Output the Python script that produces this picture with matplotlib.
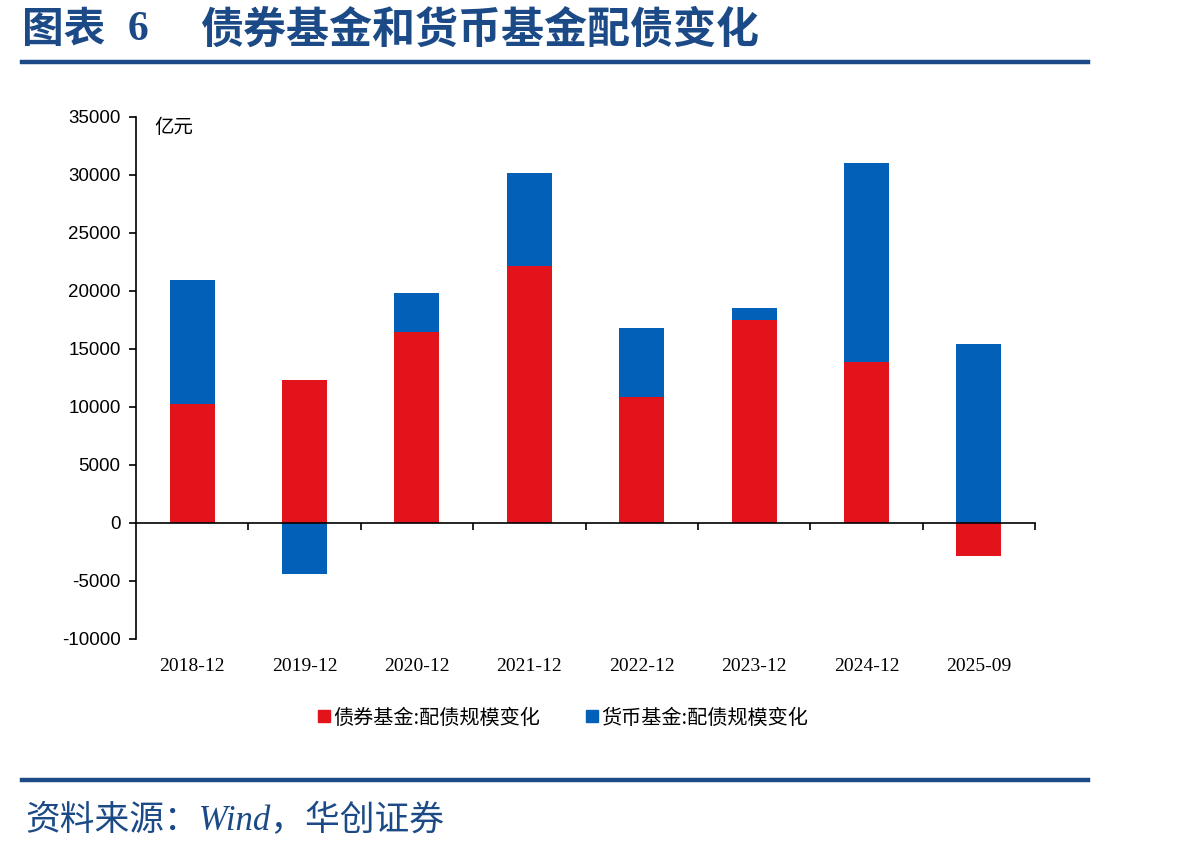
import numpy as np
import matplotlib.pyplot as plt
from matplotlib.lines import Line2D
from matplotlib.transforms import blended_transform_factory

plt.rcParams['font.family'] = ['Noto Sans CJK SC', 'DejaVu Sans']

# Data (亿元)
periods = ['2018-12', '2019-12', '2020-12', '2021-12', '2022-12', '2023-12', '2024-12', '2025-09']
bond_fund = [10260, 12290, 16470, 22180, 10890, 17470, 13850, -2850]
money_fund = [10710, -4370, 3360, 8020, 5920, 1030, 17210, 15420]
series_names = ['债券基金:配债规模变化', '货币基金:配债规模变化']
yticks = list(range(-10000, 35001, 5000))

red = '#E3131B'
blue = '#0260B8'
navy = '#1B4A87'

fig = plt.figure(figsize=(11.98, 8.57), dpi=100)
ax = fig.add_axes([0.1135, 0.2544, 0.7505, 0.6091])

x = np.arange(len(periods))
bond = np.array(bond_fund)
money = np.array(money_fund)

# stack positives on positives, negatives on negatives
bond_base = np.zeros(len(x))
money_base = np.where((money >= 0) == (bond >= 0), bond, 0)

ax.bar(x, bond, width=0.4, bottom=bond_base, color=red, edgecolor='none', zorder=2)
ax.bar(x, money, width=0.4, bottom=money_base, color=blue, edgecolor='none', zorder=2)

ax.set_xlim(-0.5, 7.5)
ax.set_ylim(-10000, 35000)
ax.set_yticks(yticks)
ax.set_yticklabels([str(v) for v in yticks], family='Liberation Sans', fontsize=13.5)
ax.tick_params(axis='y', direction='out', length=5, width=1.2, pad=6)

ax.spines['top'].set_visible(False)
ax.spines['right'].set_visible(False)
ax.spines['left'].set_linewidth(1.2)
ax.spines['bottom'].set_position(('data', 0))
ax.spines['bottom'].set_linewidth(1.2)
ax.spines['bottom'].set_zorder(3)

ax.set_xticks(np.arange(0.5, 8, 1))
ax.set_xticklabels([])
ax.tick_params(axis='x', direction='out', length=5, width=1.2)

trans = blended_transform_factory(ax.transData, ax.transAxes)
for xi, lab in zip(x, periods):
    ax.text(xi, -0.052, lab, transform=trans, ha='center', va='center',
            family='Liberation Serif', fontsize=14)

ax.text(0.02, 0.98, '亿元', transform=ax.transAxes, ha='left', va='center', fontsize=14)

handles = [Line2D([], [], marker='s', linestyle='', color=red, markersize=8),
           Line2D([], [], marker='s', linestyle='', color=blue, markersize=8)]
fig.legend(handles, series_names, loc='center', bbox_to_anchor=(0.469, 1 - 718 / 857),
           ncol=2, frameon=False, fontsize=14.5, handletextpad=0.05, columnspacing=2.2,
           handlelength=0.8)

# title and decorations
fig.text(22 / 1198, 1 - 30 / 857, '图表', ha='left', va='center',
         fontsize=30, fontweight='bold', color=navy)
fig.text(128 / 1198, 1 - 30 / 857, '6', ha='left', va='center',
         fontsize=30, fontweight='bold', color=navy, family='Liberation Serif')
fig.text(200 / 1198, 1 - 30 / 857, '债券基金和货币基金配债变化', ha='left', va='center',
         fontsize=31, fontweight='bold', color=navy)
fig.add_artist(Line2D([22 / 1198, 1088 / 1198], [1 - 62 / 857, 1 - 62 / 857], color=navy, linewidth=3.2))
fig.add_artist(Line2D([22 / 1198, 1088 / 1198], [1 - 780 / 857, 1 - 780 / 857], color=navy, linewidth=3.2))
fig.text(25 / 1198, 1 - 822 / 857, '资料来源：Wind，华创证券', ha='left', va='center',
         fontsize=25, style='italic', color=navy, family=['Liberation Serif', 'Noto Sans CJK SC'])

fig.savefig('out.png', dpi=100)
